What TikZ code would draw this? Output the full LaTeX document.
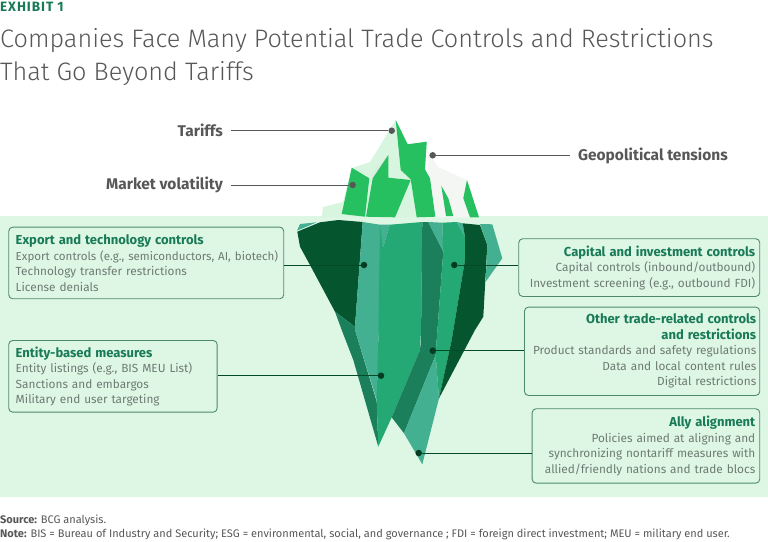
\documentclass[tikz,border=0pt]{standalone}
\usepackage{fontspec}
\setmainfont{Fira Sans}
\newfontfamily\titlefont{Fira Sans Light}
\usetikzlibrary{calc}
\definecolor{panelmint}{HTML}{DEF7E5}
\definecolor{icemint}{HTML}{D8F5E0}
\definecolor{icewhite}{HTML}{F4F6F4}
\definecolor{iceshade}{HTML}{DCEBE1}
\definecolor{icebright}{HTML}{27C060}
\definecolor{deepgreen}{HTML}{05562F}
\definecolor{midgreen}{HTML}{1C7F5C}
\definecolor{seagreen}{HTML}{24A874}
\definecolor{tealgreen}{HTML}{43B092}
\definecolor{headgreen}{HTML}{197A56}
\definecolor{boxline}{HTML}{4F8A68}
\definecolor{bodygrey}{HTML}{6E7A72}
\definecolor{labelgrey}{HTML}{575757}
\newcommand{\nohyph}{\hyphenpenalty=10000 \exhyphenpenalty=10000 }
\tikzset{
	lead/.style={draw=labelgrey,line width=0.9pt},
	sublead/.style={draw=deepgreen!85!black,line width=0.9pt},
	topdot/.style={circle,fill=labelgrey,inner sep=0pt,minimum size=6.5pt},
	subdot/.style={circle,fill=deepgreen!70!black,inner sep=0pt,minimum size=6.5pt},
	toplabel/.style={font=\fontsize{15.5}{18}\selectfont\bfseries,text=labelgrey,inner sep=0pt},
	ctrlbox/.style={draw=boxline,line width=0.9pt,rounded corners=4pt,fill=panelmint,
		anchor=north west,inner xsep=7pt,inner ysep=0pt,
		font=\fontsize{11.8}{15.5}\selectfont\nohyph,text=bodygrey}
}
\newcommand{\headline}[1]{\textcolor{headgreen}{\fontsize{13}{15.5}\selectfont\bfseries #1}}
\begin{document}
\begin{tikzpicture}[x=1pt,y=-1pt]
\useasboundingbox (0,0) rectangle (768,541);
\begin{scope}
	%bandeau
	\fill[panelmint] (0,216) rectangle (768,497);
	%titres
	\node[anchor=base west,inner sep=0pt,text=headgreen,font=\fontsize{13.5}{15}\selectfont\bfseries\addfontfeature{LetterSpace=7}] (exhibit) at (0,11) {EXHIBIT 1};
	\node[anchor=base west,inner sep=0pt,text=labelgrey,font=\fontsize{25.25}{34}\titlefont] (title1) at (0,47) {Companies Face Many Potential Trade Controls and Restrictions};
	\node[anchor=base west,inner sep=0pt,text=labelgrey,font=\fontsize{25.25}{34}\titlefont] (title2) at (0,80) {That Go Beyond Tariffs};
\end{scope}
\begin{scope} %partie emergee
	\fill[icewhite] (426.7,141.7)--(428,150)--(438,167)--(467,180)--(479,217.3)--(430,217.3)--cycle;
	\fill[icemint] (321.7,217)--(323,207)--(343,202)--(352,168)--(370,162)--(395.7,120)--(407.7,144.3)--(426.7,141.7)--(425,169.3)--(436,217.3)--cycle;
	\fill[iceshade] (388.3,155)--(372.7,178.3)--(371,175)--cycle;
	\fill[icebright] (351.7,167.7)--(369.3,178.3)--(365,216.7)--(341.7,214)--cycle;
	\fill[icebright] (388.3,155)--(388.3,177.7)--(410.7,180)--(395,217.3)--(366,216.7)--(372.7,178.3)--cycle;
	\fill[icebright] (395.7,120)--(407.7,144.3)--(426.7,141.7)--(425,169.3)--(430,178.3)--(435.3,216.7)--(416.7,217.3)--(410.7,179.3)--(400.7,170)--cycle;
	\fill[icebright] (441.3,185.7)--(448.3,198.3)--(453.3,216)--(446,216)--cycle;
	\fill[icebright] (467,180)--(479,217.3)--(470,217.3)--(463.3,198.3)--cycle;
\end{scope}
\begin{scope} %partie immergee
	\fill[tealgreen] (297,230.7)--(300,224)--(316.7,222.3)--cycle;
	\fill[deepgreen] (297.3,231.7)--(320,222.3)--(338.3,220)--(362.7,222)--(355,326.7)--(335,311.7)--(310,265)--(300,246.7)--cycle;
	\fill[midgreen] (335,311.7)--(355,326.7)--(355,330)--(376.7,401.7)--(378.3,446.7)--(353.3,360)--(341.7,330)--cycle;
	\fill[tealgreen] (362.7,222)--(380,224.7)--(390,224.7)--(382.7,248.3)--(378.3,340)--(377.3,402)--(355,330)--(355,326.7)--cycle;
	\fill[seagreen] (380,224.7)--(382.7,248.3)--(390,224.7)--(422.3,222)--(421,340)--(420.7,330)--(420,350)--(391.7,417.3)--(378.3,446.7)--(376.7,401.7)--(378.3,340)--cycle;
	\fill[midgreen] (422.3,222)--(428.3,222)--(443.3,251.7)--(436.7,340)--(435.7,355)--(404,433.3)--(391.7,417.3)--(420,350)--(421,340)--cycle;
	\fill[tealgreen] (428.3,222)--(442.3,222.7)--(443.3,251.7)--cycle;
	\fill[tealgreen] (435.7,355)--(439,398.3)--(422.3,464.3)--(404,433.3)--cycle;
	\fill[seagreen] (442.3,222.7)--(456.7,222)--(465,236.7)--(465,260)--(451.7,340)--(439,398.3)--(435.7,355)--(436.7,340)--(443.3,251.7)--cycle;
	\fill[tealgreen] (456.7,222)--(462.7,223.3)--(465,236.7)--cycle;
	\fill[deepgreen] (462.7,223.3)--(480,225)--(487.3,245)--(483.3,316.7)--(475,330)--(439,398.3)--(451.7,340)--(465,260)--(465,236.7)--cycle;
	\fill[tealgreen] (480,224)--(492.3,224.3)--(502.3,258.3)--(485.7,281.7)--(487.3,245)--cycle;
\end{scope}
%etiquettes du haut
\node[toplabel,anchor=east] (tariffs) at (223,130) {Tariffs};
\node[toplabel,anchor=east] (volatility) at (223,184.5) {Market volatility};
\node[toplabel,anchor=east] (tensions) at (728,155.5) {Geopolitical tensions};
\node[topdot] (tariffsdot) at (391.7,130.7) {};
\node[topdot] (volatilitydot) at (352.7,185) {};
\node[topdot] (tensionsdot) at (432.7,155.3) {};
\coordinate (tariffsend) at (231,130.7);
\coordinate (volatilityend) at (231,185);
\coordinate (tensionsend) at (570,155.3);
\draw[lead] (tariffsend)--(tariffsdot);
\draw[lead] (volatilityend)--(volatilitydot);
\draw[lead] (tensionsdot)--(tensionsend);
%cadres
\node[ctrlbox,text width=261pt,align=left,minimum height=71.6pt] (export) at (8.3,226.7)
	{\headline{Export and technology controls}\\\mbox{\fontsize{11.55}{15.5}\selectfont Export controls (e.g., semiconductors, AI, biotech)}\\Technology transfer restrictions\\License denials};
\node[ctrlbox,text width=194.4pt,align=left,minimum height=71.7pt] (entity) at (8.3,340)
	{\headline{Entity-based measures}\\Entity listings (e.g., BIS MEU List)\\Sanctions and embargos\\Military end user targeting};
\node[ctrlbox,text width=232pt,align=right,inner xsep=4.5pt,minimum height=57.7pt] (capital) at (518.3,238.3)
	{\headline{Capital and investment controls}\\Capital controls (inbound/outbound)\\Investment screening (e.g., outbound FDI)};
\node[ctrlbox,text width=228.3pt,align=right,inner xsep=3.5pt,minimum height=88.3pt] (other) at (524,306.7)
	{\headline{Other trade-related controls}\\\headline{and restrictions}\\Product standards and safety regulations\\Data and local content rules\\Digital restrictions};
\node[ctrlbox,text width=218.6pt,align=right,inner xsep=4.5pt,minimum height=74.4pt] (ally) at (531.7,408.3)
	{\headline{Ally alignment}\\Policies aimed at aligning and\\synchronizing nontariff measures with\\allied/friendly nations and trade blocs};
%points et traits
\node[subdot] (exportdot) at (364,265) {};
\node[subdot] (entitydot) at (381,375.7) {};
\node[subdot] (capitaldot) at (454.3,265) {};
\node[subdot] (otherdot) at (432.7,350.7) {};
\node[subdot] (allydot) at (418.7,453) {};
\draw[sublead] (export.east|-exportdot)--(exportdot);
\draw[sublead] (entity.east|-entitydot)--(entitydot);
\draw[sublead] (capitaldot)--(capitaldot-|capital.west);
\draw[sublead] (otherdot)--(otherdot-|other.west);
\draw[sublead] (allydot)--(allydot-|ally.west);
%notes
\node[anchor=base west,inner sep=0pt,text=labelgrey,font=\fontsize{11}{13}\selectfont] (source) at (0,523) {\textbf{Source:} BCG analysis.};
\node[anchor=base west,inner sep=0pt,text=labelgrey,font=\fontsize{11}{13}\selectfont] (note) at (0,537) {\textbf{Note:} BIS = Bureau of Industry and Security; ESG = environmental, social, and governance ; FDI = foreign direct investment; MEU = military end user.};
\end{tikzpicture}
\end{document}
